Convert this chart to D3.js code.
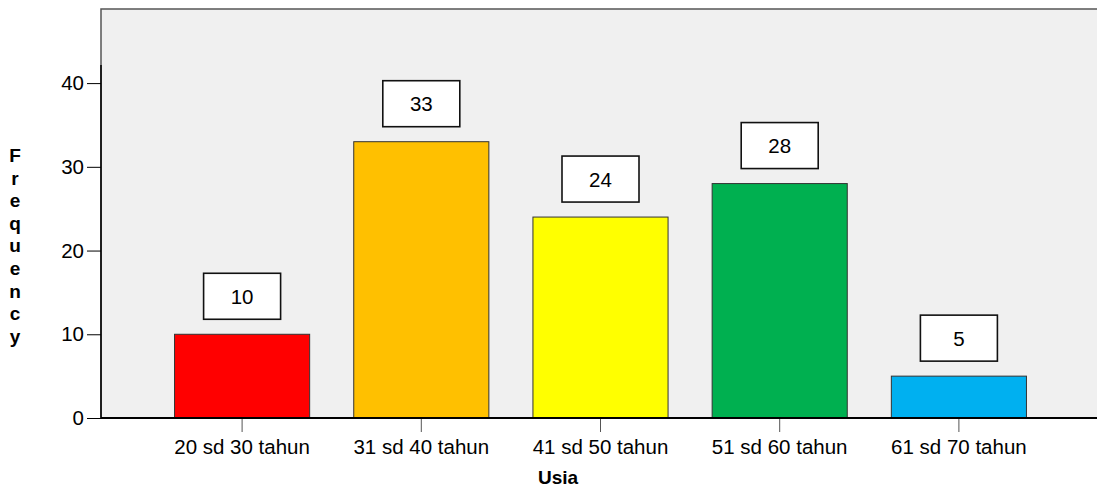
<!DOCTYPE html>
<html lang="id">
<head>
<meta charset="UTF-8">
<title>Usia - Frequency</title>
<script src="https://cdn.jsdelivr.net/npm/d3@7"></script>
<style>
    body { margin: 0; background: #fff; }
    svg { display: block; font-family: "Liberation Sans", Arial, sans-serif; }
    .tick text { font-size: 20.5px; fill: #000; }
    .axis-title { font-size: 19px; font-weight: bold; }
    .bar { stroke: #333; stroke-width: 1px; }
</style>
</head>
<body>
<div id="chart"></div>
<script>
    // data
    const categories = ["20 sd 30 tahun", "31 sd 40 tahun", "41 sd 50 tahun", "51 sd 60 tahun", "61 sd 70 tahun"];
    const frequency = [10, 33, 24, 28, 5];
    const barColors = ["#ff0000", "#ffc000", "#ffff00", "#00b050", "#00b0f0"];
    const yTicks = [0, 10, 20, 30, 40];

    const width = 1097, height = 488;
    const plot = {left: 101, top: 9, right: 1097, bottom: 418};

    const data = categories.map((c, i) => ({cat: c, value: frequency[i], color: barColors[i]}));

    const svg = d3.select("#chart").append("svg")
        .attr("width", width)
        .attr("height", height);

    const x = d3.scaleBand()
        .domain(categories)
        .range([152.5, 1048.5])
        .paddingInner(0.246)
        .paddingOuter(0.123);

    const y = d3.scaleLinear()
        .domain([0, 48.85])
        .range([plot.bottom, plot.top]);

    // plot background (right edge runs off the picture)
    svg.append("rect")
        .attr("x", plot.left)
        .attr("y", plot.top)
        .attr("width", plot.right - plot.left + 10)
        .attr("height", plot.bottom - plot.top)
        .attr("fill", "#f0f0f0")
        .attr("stroke", "#555")
        .attr("stroke-width", 1.5);

    // bars
    svg.append("g")
        .selectAll("rect")
        .data(data)
        .join("rect")
        .attr("class", "bar")
        .attr("x", d => x(d.cat))
        .attr("y", d => y(d.value))
        .attr("width", x.bandwidth())
        .attr("height", d => y(0) - y(d.value))
        .attr("fill", d => d.color);

    // value labels in boxes
    const boxW = 77, boxH = 46, boxGap = 15;
    const labels = svg.append("g")
        .selectAll("g")
        .data(data)
        .join("g")
        .attr("transform", d => `translate(${x(d.cat) + x.bandwidth() / 2},${y(d.value) - boxGap - boxH})`);

    labels.append("rect")
        .attr("x", -boxW / 2)
        .attr("width", boxW)
        .attr("height", boxH)
        .attr("fill", "#fff")
        .attr("stroke", "#111")
        .attr("stroke-width", 1.6);

    labels.append("text")
        .attr("y", boxH / 2 + 7.5)
        .attr("text-anchor", "middle")
        .style("font-size", "20.5px")
        .text(d => d.value);

    // y axis
    const yAxis = svg.append("g")
        .attr("transform", `translate(${plot.left},0)`)
        .call(d3.axisLeft(y).tickValues(yTicks).tickSize(14).tickPadding(3).tickSizeOuter(0));
    yAxis.select(".domain").remove();
    yAxis.selectAll(".tick line").attr("stroke", "#000");
    yAxis.append("line")
        .attr("y1", y(42.15))
        .attr("y2", y(0))
        .attr("stroke", "#000")
        .attr("stroke-width", 1.5);

    // x axis
    const xAxis = svg.append("g")
        .attr("transform", `translate(0,${plot.bottom})`)
        .call(d3.axisBottom(x).tickSize(14).tickPadding(7).tickSizeOuter(0));
    xAxis.select(".domain").remove();
    xAxis.selectAll(".tick line").attr("stroke", "#555");
    xAxis.append("line")
        .attr("x1", plot.left)
        .attr("x2", plot.right)
        .attr("stroke", "#000")
        .attr("stroke-width", 2);

    // axis titles
    svg.append("text")
        .attr("class", "axis-title")
        .attr("x", 558)
        .attr("y", 484)
        .attr("text-anchor", "middle")
        .text("Usia");

    svg.append("text")
        .attr("class", "axis-title")
        .attr("text-anchor", "middle")
        .selectAll("tspan")
        .data("Frequency".split(""))
        .join("tspan")
        .attr("x", 15)
        .attr("y", (d, i) => 162 + i * 22.6)
        .text(d => d);
</script>
</body>
</html>
